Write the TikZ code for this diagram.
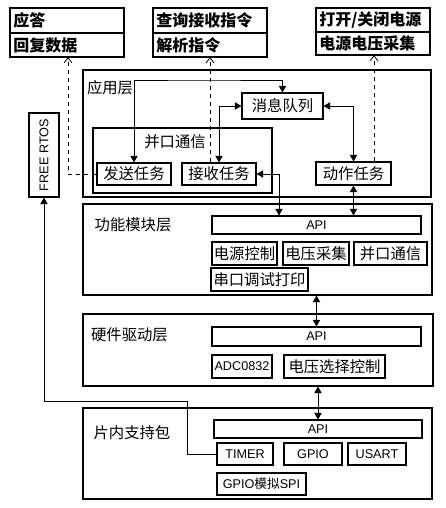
\documentclass[tikz,border=0pt]{standalone}
\usepackage{fontspec}
\usepackage{graphicx}
\setmainfont{Liberation Sans}
\newfontfamily\cjk{Noto Sans CJK SC}
\usetikzlibrary{arrows.meta}
\newcommand\mybox[7][]{\node[box,minimum width={(#5-#3)*0.75pt},minimum height={(#6-#4)*0.75pt},#1] (#2) at ({(#3+#5)/2},{(#4+#6)/2}) {#7};}
\begin{document}
\begin{tikzpicture}[x=0.75pt,y=-0.75pt,
  box/.style={draw,line width=0.8pt,inner sep=0pt,font=\cjk\fontsize{11.5}{13}\selectfont},
  lat/.style={font=\fontsize{9.5}{11}\selectfont},
  lbl/.style={inner sep=0pt,font=\cjk\fontsize{11.5}{13}\selectfont},
  ttl/.style={anchor=west,inner sep=0pt,font=\cjk\bfseries\fontsize{12}{14}\selectfont},
  dbl/.style={{Triangle[width=5.5pt,length=5pt]}-{Triangle[width=5.5pt,length=5pt]},line width=0.6pt},
  arr/.style={-{Triangle[width=5.5pt,length=5pt]},line width=0.6pt},
  darr/.style={-{Straight Barb[width=6pt,length=4pt]},line width=0.6pt,dash pattern=on 3.5pt off 2.5pt}]
\useasboundingbox (0,0) rectangle (446,508);
% top boxes
\mybox{b1a}{10}{8}{124}{33}{}
\mybox{b1b}{10}{33}{124}{57}{}
\mybox{b2a}{153}{8}{267}{33}{}
\mybox{b2b}{153}{33}{267}{57}{}
\mybox{b3a}{316}{8}{430}{32}{}
\mybox{b3b}{316}{32}{430}{55}{}
\node[ttl] (t1a) at (13,20.5) {应答};
\node[ttl] (t1b) at (13,45) {回复数据};
\node[ttl] (t2a) at (156,20.5) {查询接收指令};
\node[ttl] (t2b) at (156,45) {解析指令};
\node[ttl] (t3a) at (319,20) {打开/关闭电源};
\node[ttl] (t3b) at (319,43.5) {电源电压采集};
% application layer
\mybox{app}{83}{70}{431}{197}{}
\mybox{par}{93}{128}{272}{193}{}
\mybox{send}{97}{163}{171}{185}{发送任务}
\mybox{recv}{182}{163}{256}{185}{接收任务}
\mybox{queue}{242}{93}{323}{119}{消息队列}
\mybox{act}{316}{162}{391}{185}{动作任务}
\node[lbl] (appl) at (110,88) {应用层};
\node[lbl] (parl) at (175,142) {并口通信};
% function layer
\mybox{func}{83}{204}{432}{295}{}
\mybox[lat]{fapi}{212}{216}{421}{234}{API}
\mybox{m1}{212}{242}{277}{265}{电源控制}
\mybox{m2}{283}{242}{349}{265}{电压采集}
\mybox{m3}{354}{242}{427}{265}{并口通信}
\mybox{m4}{211}{268}{308}{291}{串口调试打印}
\node[lbl] (funcl) at (133,225) {功能模块层};
% hardware layer
\mybox{hw}{83}{314}{433}{386}{}
\mybox[lat]{hapi}{212}{327}{421}{346}{API}
\mybox[lat]{adc}{212}{355}{272}{378}{ADC0832}
\mybox{vsel}{284}{355}{385}{378}{电压选择控制}
\node[lbl] (hwl) at (129.5,335) {硬件驱动层};
% bsp
\mybox{bsp}{83}{408}{432}{499}{}
\mybox[lat]{bapi}{214}{420}{422}{438}{API}
\mybox[lat]{timer}{217}{443}{273}{465}{TIMER}
\mybox[lat]{gpio}{284}{443}{342}{465}{GPIO}
\mybox[lat]{usart}{348}{443}{406}{465}{USART}
\mybox[lat]{spi}{217}{473}{306}{495}{GPIO{\cjk 模拟}SPI}
\node[lbl] (bspl) at (132,433) {片内支持包};
% rtos
\mybox[lat]{rtos}{29}{113}{59}{197}{\rotatebox{90}{FREE RTOS}}
% connectors
\coordinate (apptop) at (200,80);
\draw[dbl] (send.north) |- (apptop) -| (queue.north);
\draw[dbl] (recv.north) |- (queue.west);
\draw[dbl] (queue.east) -| (act.north);
\coordinate (c4) at (279,200);
\draw[dbl] (recv.east) -| (c4 |- fapi.north);
\draw[dbl] (act.south) -- (act.south |- fapi.north);
\draw[dbl] (hapi.north |- func.south) -- (hapi.north);
\draw[dbl] (bapi.north |- hw.south) -- (bapi.north);
\coordinate (k1) at (187,401);
\draw[arr] (timer.west) -| (k1) -| (rtos.south);
% dashed
\coordinate (dx1) at (68,57);
\coordinate (dx2) at (210,57);
\coordinate (dx3) at (374,55);
\draw[darr] (send.west) -| (dx1);
\draw[darr] (dx2 |- recv.north) -- (dx2);
\draw[darr] (dx3 |- act.north) -- (dx3);
\end{tikzpicture}
\end{document}
